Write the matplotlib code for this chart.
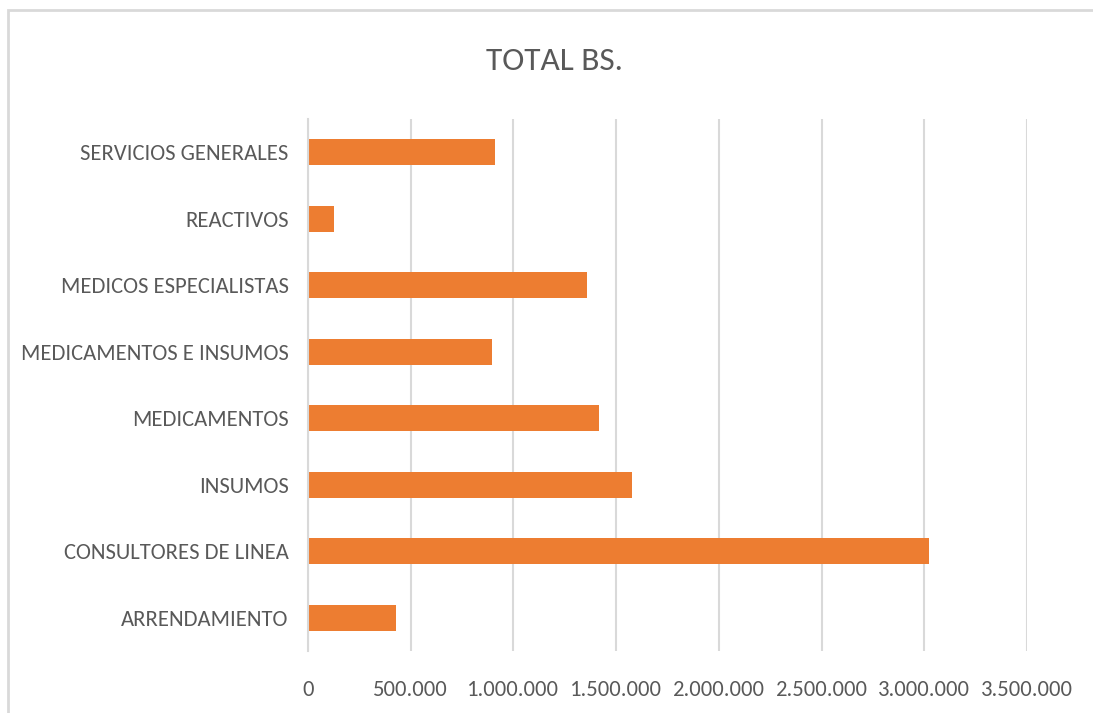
import matplotlib
matplotlib.use("Agg")
import matplotlib.pyplot as plt
from matplotlib import font_manager
from matplotlib.patches import Rectangle
from matplotlib.ticker import FuncFormatter

# datos del gráfico (de abajo hacia arriba)
categorias = ["ARRENDAMIENTO", "CONSULTORES DE LINEA", "INSUMOS", "MEDICAMENTOS",
              "MEDICAMENTOS E INSUMOS", "MEDICOS ESPECIALISTAS", "REACTIVOS",
              "SERVICIOS GENERALES"]
totales = [428000, 3022000, 1577000, 1417000, 896000, 1358000, 127000, 910000]
ticks_x = [0, 500000, 1000000, 1500000, 2000000, 2500000, 3000000, 3500000]

# fuente tipo Calibri si está, si no algo parecido
nombres = {f.name for f in font_manager.fontManager.ttflist}
opciones = [("Carlito", 16.3, 24), ("Asap Condensed", 16, 24), ("DejaVu Sans", 12.5, 19)]
fuente, tam, tam_titulo = next(o for o in opciones if o[0] in nombres)
plt.rcParams['font.family'] = [fuente, "DejaVu Sans"]

gris = "#595959"
linea = "#d9d9d9"

fig = plt.figure(figsize=(10.93, 7.13), dpi=100, facecolor="white")
# borde del área del gráfico
fig.patches.append(Rectangle((8 / 1093, -0.1), 1.2, (713 - 10) / 713 + 0.1,
                             transform=fig.transFigure, fill=False,
                             edgecolor=linea, linewidth=2))

ax = fig.add_axes([308 / 1093, 62 / 713, 719 / 1093, 532 / 713])
ax.barh(range(len(categorias)), totales, height=0.39, color="#ED7D31")

ax.set_xlim(0, 3500000)
ax.set_ylim(-0.5, len(categorias) - 0.5)
ax.set_xticks(ticks_x)
ax.xaxis.set_major_formatter(FuncFormatter(lambda v, p: f"{int(v):,}".replace(",", ".")))
ax.set_yticks(range(len(categorias)))
ax.set_yticklabels(categorias)

ax.grid(axis="x", color=linea, linewidth=1.5)
ax.set_axisbelow(True)
for s in ["top", "right", "bottom"]:
    ax.spines[s].set_visible(False)
ax.spines["left"].set_color(linea)
ax.spines["left"].set_linewidth(1.5)
ax.tick_params(axis="both", length=0, colors=gris, labelsize=tam)
ax.tick_params(axis="y", pad=14)
ax.tick_params(axis="x", pad=21)

fig.text(555 / 1093, 1 - 61 / 713, "TOTAL BS.", ha="center", va="center",
         fontsize=tam_titulo, color=gris)

plt.savefig("out.png", dpi=100, facecolor="white")
